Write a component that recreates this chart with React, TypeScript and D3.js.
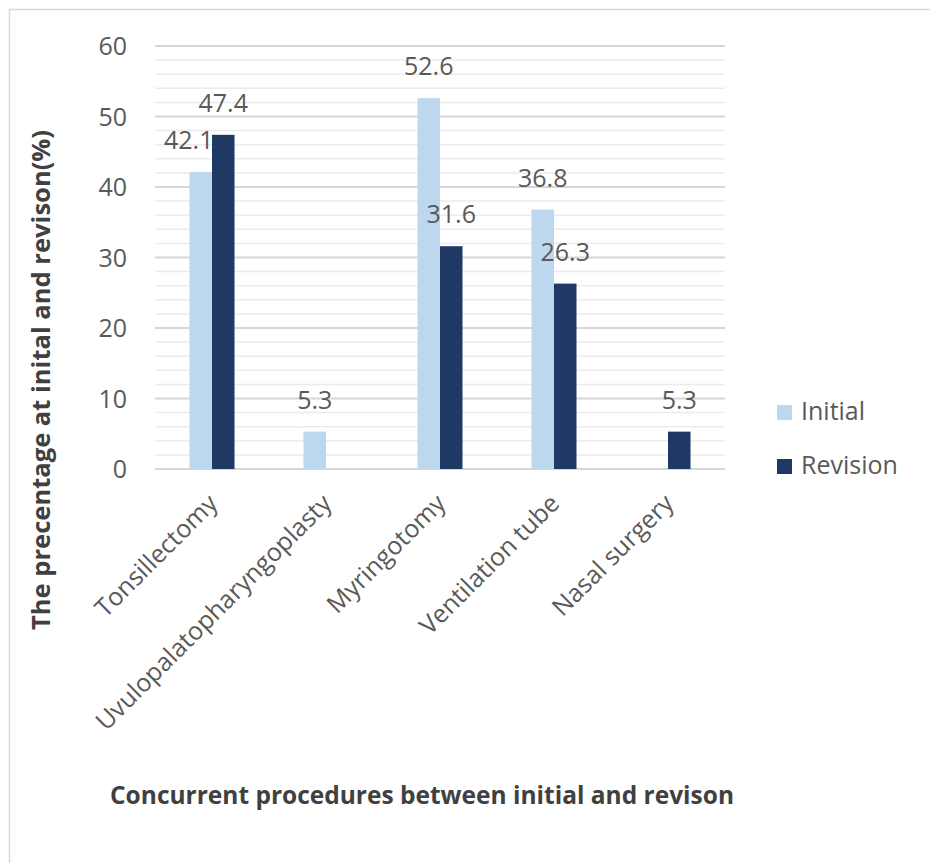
import React, { useEffect, useRef } from "react";
import * as d3 from "d3";

const categories = ["Tonsillectomy", "Uvulopalatopharyngoplasty", "Myringotomy", "Ventilation tube", "Nasal surgery"];
const seriesNames = ["Initial", "Revision"];
const initialValues = [42.1, 5.3, 52.6, 36.8, 0];
const revisionValues = [47.4, 0, 31.6, 26.3, 5.3];
const yTicks = [0, 10, 20, 30, 40, 50, 60];
const colors = ["#BDD7EE", "#203864"];

const App = () => {
  const svgRef = useRef<SVGSVGElement>(null);

  useEffect(() => {
    const width = 930;
    const height = 863;
    const left = 155, right = 725, top = 46, bottom = 469;
    const font = "'Open Sans', 'DejaVu Sans', sans-serif";
    const fs = 25;

    const svg = d3.select(svgRef.current);
    svg.selectAll("*").remove();
    svg.attr("width", width).attr("height", height);

    svg.append("rect").attr("width", width).attr("height", height).attr("fill", "#fff");
    // chart area border, cut off at right/bottom like the screenshot
    svg.append("rect")
      .attr("x", 9.5).attr("y", 9.5)
      .attr("width", width + 20).attr("height", height + 20)
      .attr("fill", "none").attr("stroke", "#d9d9d9").attr("stroke-width", 1.5);

    const y = d3.scaleLinear().domain([0, 60]).range([bottom, top]);
    const x0 = d3.scaleBand().domain(categories).range([left, right]);
    const step = x0.bandwidth();
    const x1 = d3.scaleBand().domain(seriesNames).range([step / 2 - 22.5, step / 2 + 22.5]);

    const data = seriesNames.map((s, i) => ({
      name: s,
      values: i === 0 ? initialValues : revisionValues,
    }));

    // minor gridlines
    svg.append("g").selectAll("line")
      .data(d3.range(2, 60, 2).filter(v => v % 10 !== 0))
      .join("line")
      .attr("x1", left).attr("x2", right)
      .attr("y1", d => y(d)).attr("y2", d => y(d))
      .attr("stroke", "#ebebeb").attr("stroke-width", 1.5);

    // major gridlines
    svg.append("g").selectAll("line")
      .data(yTicks)
      .join("line")
      .attr("x1", left).attr("x2", right)
      .attr("y1", d => y(d)).attr("y2", d => y(d))
      .attr("stroke", "#d6d6d6").attr("stroke-width", 2);

    // y tick labels
    svg.append("g").selectAll("text")
      .data(yTicks)
      .join("text")
      .attr("x", 127).attr("y", d => y(d))
      .attr("dy", "0.36em")
      .attr("text-anchor", "end")
      .attr("font-family", font).attr("font-size", fs)
      .attr("fill", "#595959")
      .text(d => d);

    // bars + labels, series by series so later bars sit over earlier labels
    data.forEach((s, si) => {
      const g = svg.append("g");
      const pts = categories.map((c, i) => ({ c, v: s.values[i] })).filter(d => d.v > 0);
      g.selectAll("rect")
        .data(pts)
        .join("rect")
        .attr("x", d => (x0(d.c) as number) + (x1(s.name) as number))
        .attr("width", x1.bandwidth())
        .attr("y", d => y(d.v))
        .attr("height", d => y(0) - y(d.v))
        .attr("fill", colors[si]);
      g.selectAll("text")
        .data(pts)
        .join("text")
        .attr("x", d => (x0(d.c) as number) + (x1(s.name) as number) + x1.bandwidth() / 2 - (d.c === "Tonsillectomy" && si === 0 ? 12 : 0))
        .attr("y", d => y(d.v) - 23)
        .attr("text-anchor", "middle")
        .attr("font-family", font).attr("font-size", fs)
        .attr("fill", "#595959")
        .text(d => d.v.toFixed(1));
    });

    // category labels
    svg.append("g").selectAll("text")
      .data(categories)
      .join("text")
      .attr("transform", d => `translate(${(x0(d) as number) + step / 2 + 7},${bottom + 36}) rotate(-45)`)
      .attr("text-anchor", "end")
      .attr("font-family", font).attr("font-size", fs)
      .attr("fill", "#595959")
      .text(d => d);

    // legend
    const legend = svg.append("g").attr("transform", "translate(777,405)");
    seriesNames.forEach((s, i) => {
      legend.append("rect").attr("x", 0).attr("y", i * 54).attr("width", 15).attr("height", 15).attr("fill", colors[i]);
      legend.append("text")
        .attr("x", 24).attr("y", i * 54 + 15)
        .attr("font-family", font).attr("font-size", fs)
        .attr("fill", "#595959")
        .text(s);
    });

    // axis titles
    svg.append("text")
      .attr("transform", "translate(50,380) rotate(-90)")
      .attr("text-anchor", "middle")
      .attr("font-family", font).attr("font-weight", "bold").attr("font-size", 25)
      .attr("fill", "#404040")
      .attr("textLength", 500).attr("lengthAdjust", "spacingAndGlyphs")
      .text("The precentage at inital and revison(%)");

    svg.append("text")
      .attr("x", 422).attr("y", 804)
      .attr("text-anchor", "middle")
      .attr("font-family", font).attr("font-weight", "bold").attr("font-size", 25)
      .attr("fill", "#404040")
      .attr("textLength", 624).attr("lengthAdjust", "spacingAndGlyphs")
      .text("Concurrent procedures between initial and revison");
  }, []);

  return (
    <>
      <style>{"body{margin:0}"}</style>
      <svg ref={svgRef} style={{ display: "block" }}></svg>
    </>
  );
};

export default App;
